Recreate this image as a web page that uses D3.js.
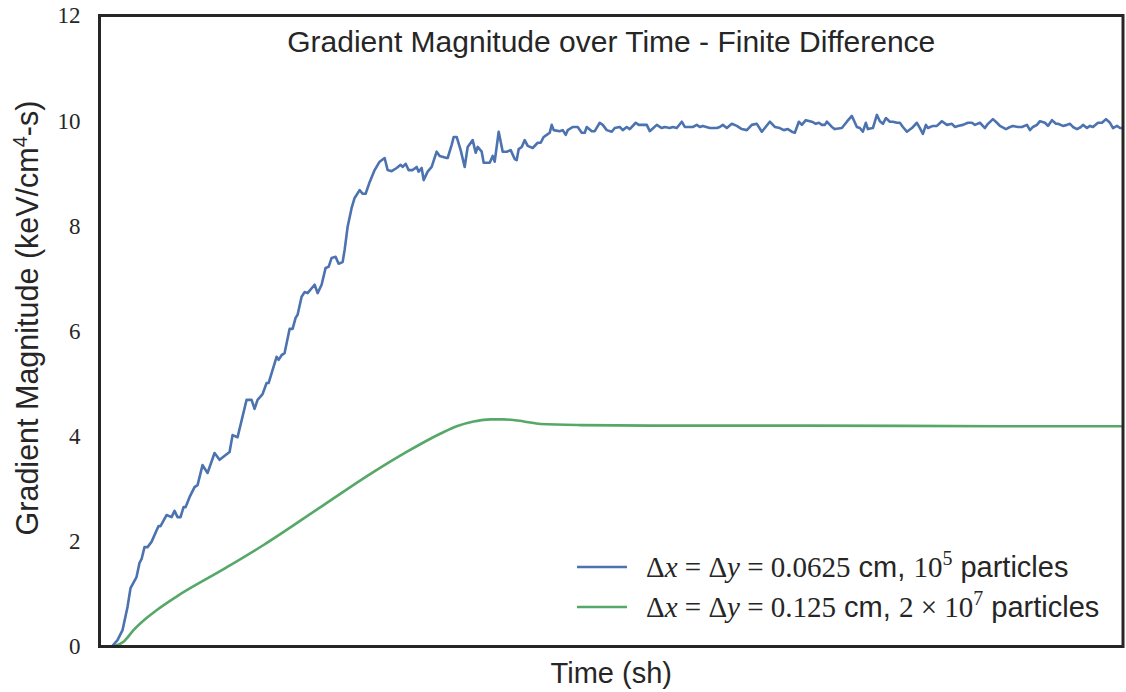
<!DOCTYPE html>
<html>
<head>
<meta charset="utf-8">
<script src="https://cdn.jsdelivr.net/npm/d3@7/dist/d3.min.js"></script>
<style>
  html, body { margin: 0; padding: 0; background: #ffffff; }
  svg { display: block; }
</style>
</head>
<body>
<svg id="chart" width="1126" height="692"></svg>
<script>
// Fine grid run: dx = dy = 0.0625 cm, 1e5 particles (time in sh, gradient in keV/cm^4-s)
const fineTime = [
  0.10, 0.13, 0.18, 0.23, 0.28, 0.31, 0.37, 0.40, 0.42, 0.45, 0.48, 0.52, 0.59, 0.61, 0.67,
  0.72, 0.75, 0.78, 0.81, 0.84, 0.86, 0.90, 0.95, 0.98, 1.03, 1.08, 1.15, 1.20, 1.30, 1.33,
  1.38, 1.47, 1.52, 1.55, 1.58, 1.63, 1.67, 1.69, 1.77, 1.79, 1.82, 1.85, 1.90, 1.93, 1.96,
  1.98, 2.02, 2.05, 2.08, 2.15, 2.18, 2.22, 2.26, 2.29, 2.32, 2.36, 2.39, 2.43, 2.45, 2.48,
  2.52, 2.55, 2.60, 2.63, 2.66, 2.70, 2.75, 2.80, 2.85, 2.88, 2.92, 2.97, 3.01, 3.03, 3.06,
  3.09, 3.13, 3.17, 3.19, 3.22, 3.24, 3.28, 3.32, 3.37, 3.40, 3.47, 3.48, 3.52, 3.54, 3.57,
  3.61, 3.65, 3.68, 3.73, 3.76, 3.78, 3.82, 3.84, 3.87, 3.90, 3.93, 3.95, 3.99, 4.03, 4.07,
  4.11, 4.15, 4.17, 4.19, 4.22, 4.25, 4.28, 4.33, 4.38, 4.41, 4.44, 4.47, 4.50, 4.52, 4.54,
  4.60, 4.63, 4.66, 4.68, 4.73, 4.78, 4.82, 4.85, 4.87, 4.92, 4.95, 5.00, 5.03, 5.07, 5.12,
  5.15, 5.20, 5.23, 5.27, 5.30, 5.36, 5.39, 5.43, 5.47, 5.50, 5.57, 5.62, 5.65, 5.70, 5.73,
  5.77, 5.82, 5.85, 5.88, 5.93, 5.97, 6.00, 6.03, 6.10, 6.17, 6.20, 6.23, 6.27, 6.32, 6.37,
  6.42, 6.47, 6.52, 6.57, 6.62, 6.65, 6.70, 6.75, 6.80, 6.84, 6.88, 6.92, 6.95, 6.99, 7.02,
  7.06, 7.10, 7.12, 7.16, 7.19, 7.22, 7.25, 7.27, 7.32, 7.35, 7.42, 7.47, 7.52, 7.57, 7.60,
  7.63, 7.66, 7.68, 7.73, 7.77, 7.80, 7.83, 7.86, 7.90, 7.93, 7.97, 8.00, 8.03, 8.07, 8.12,
  8.17, 8.20, 8.23, 8.26, 8.28, 8.33, 8.37, 8.42, 8.47, 8.52, 8.55, 8.58, 8.63, 8.68, 8.72,
  8.75, 8.80, 8.85, 8.88, 8.93, 8.97, 9.00, 9.06, 9.10, 9.13, 9.18, 9.22, 9.27, 9.30, 9.33,
  9.37, 9.40, 9.45, 9.48, 9.52, 9.56, 9.58, 9.63, 9.67, 9.70, 9.73, 9.77, 9.81, 9.83, 9.87,
  9.90, 9.93, 9.98, 10.02, 10.06, 10.10, 10.13, 10.17, 10.20, 10.23
];
const fineGrad = [
  0.00, 0.01, 0.12, 0.31, 0.75, 1.11, 1.32, 1.59, 1.66, 1.89, 1.89, 1.99, 2.29, 2.29, 2.50,
  2.46, 2.58, 2.46, 2.46, 2.65, 2.65, 2.84, 3.03, 3.07, 3.45, 3.30, 3.68, 3.55, 3.70, 4.02,
  3.98, 4.69, 4.69, 4.52, 4.69, 4.80, 5.01, 5.01, 5.51, 5.45, 5.54, 5.58, 6.04, 6.04, 6.25,
  6.31, 6.65, 6.74, 6.72, 6.88, 6.72, 6.88, 7.20, 7.22, 7.39, 7.41, 7.28, 7.31, 7.54, 7.98,
  8.34, 8.53, 8.68, 8.61, 8.61, 8.83, 9.06, 9.22, 9.29, 9.06, 9.04, 9.10, 9.16, 9.12, 9.18,
  9.06, 9.06, 9.12, 9.03, 9.10, 8.87, 9.03, 9.12, 9.41, 9.33, 9.29, 9.29, 9.54, 9.69, 9.69,
  9.44, 9.12, 9.50, 9.63, 9.39, 9.50, 9.41, 9.20, 9.20, 9.20, 9.33, 9.22, 9.79, 9.41, 9.41,
  9.44, 9.27, 9.25, 9.46, 9.50, 9.63, 9.52, 9.48, 9.58, 9.58, 9.69, 9.73, 9.77, 9.92, 9.82,
  9.80, 9.82, 9.73, 9.82, 9.88, 9.88, 9.77, 9.77, 9.88, 9.80, 9.80, 9.96, 9.92, 9.82, 9.79,
  9.86, 9.88, 9.82, 9.88, 9.84, 9.96, 9.92, 9.92, 9.92, 9.80, 9.92, 9.86, 9.88, 9.86, 9.88,
  9.86, 9.98, 9.88, 9.88, 9.88, 9.92, 9.88, 9.90, 9.86, 9.86, 9.88, 9.92, 9.86, 9.94, 9.90,
  9.84, 9.82, 9.92, 9.94, 9.79, 9.86, 9.98, 9.88, 9.86, 9.82, 9.84, 9.79, 9.77, 9.98, 9.92,
  10.01, 9.99, 9.98, 9.94, 9.96, 9.92, 9.92, 9.98, 9.88, 9.84, 9.86, 9.98, 10.09, 9.88, 9.86,
  9.79, 9.96, 9.84, 9.86, 10.11, 9.99, 9.94, 10.05, 9.98, 9.98, 9.96, 9.96, 9.88, 9.79, 9.86,
  9.96, 9.86, 9.75, 9.92, 9.86, 9.90, 9.90, 9.99, 9.92, 9.94, 9.88, 9.90, 9.92, 9.96, 9.96,
  9.92, 9.96, 9.86, 9.94, 10.03, 9.96, 9.90, 9.84, 9.88, 9.90, 9.88, 9.88, 9.92, 9.82, 9.88,
  9.92, 9.99, 9.96, 9.90, 10.01, 9.94, 9.94, 9.90, 9.92, 9.94, 9.88, 9.84, 9.88, 9.92, 9.86,
  9.90, 9.88, 9.96, 9.96, 10.03, 9.96, 9.86, 9.90, 9.86, 9.86
];

// Coarse grid run: dx = dy = 0.125 cm, 2e7 particles
const coarseTime = [
  0.14, 0.24, 0.34, 0.47, 0.57, 0.77, 1.24, 1.64, 2.24, 2.74, 3.07, 3.41, 3.57, 3.74, 3.91,
  4.04, 4.24, 4.41, 4.81, 5.51, 7.01, 9.01, 10.23
];
const coarseGrad = [
  0.00, 0.09, 0.31, 0.54, 0.69, 0.95, 1.47, 1.93, 2.69, 3.32, 3.70, 4.05, 4.19, 4.28, 4.32,
  4.32, 4.28, 4.23, 4.21, 4.20, 4.20, 4.19, 4.19
];

const yTicks = [0, 2, 4, 6, 8, 10, 12];
const seriesColors = ["#4c72b0", "#55a868"];

const W = 1126, H = 692;
const plot = { left: 99.5, top: 15.5, right: 1123, bottom: 646.5 };
const ink = "#262626";
const serif = "'Liberation Serif', 'DejaVu Serif', serif";
const sans = "'Liberation Sans', Arial, sans-serif";

const svg = d3.select("#chart");
svg.append("rect").attr("width", W).attr("height", H).attr("fill", "#ffffff");

const x = d3.scaleLinear().domain([0, 10.23]).range([plot.left, plot.right]);
const y = d3.scaleLinear().domain([0, 12]).range([plot.bottom, plot.top]);

svg.append("clipPath").attr("id", "plot-clip")
  .append("rect")
  .attr("x", plot.left).attr("y", plot.top)
  .attr("width", plot.right - plot.left).attr("height", plot.bottom - plot.top);

// Y axis: labels only, no tick marks
const yAxis = svg.append("g")
  .attr("transform", `translate(${plot.left},0)`)
  .call(d3.axisLeft(y).tickValues(yTicks).tickSize(0).tickPadding(19).tickFormat(d3.format("d")));
yAxis.select(".domain").remove();
yAxis.selectAll("text")
  .attr("font-family", serif).attr("font-size", 23).attr("fill", ink);

// Series lines
const lines = svg.append("g").attr("clip-path", "url(#plot-clip)");
const fineData = fineTime.map((t, i) => [t, fineGrad[i]]);
const coarseData = coarseTime.map((t, i) => [t, coarseGrad[i]]);

lines.append("path")
  .datum(coarseData)
  .attr("fill", "none")
  .attr("stroke", seriesColors[1])
  .attr("stroke-width", 2.6)
  .attr("stroke-linejoin", "round")
  .attr("d", d3.line().x(d => x(d[0])).y(d => y(d[1])).curve(d3.curveMonotoneX));

lines.append("path")
  .datum(fineData)
  .attr("fill", "none")
  .attr("stroke", seriesColors[0])
  .attr("stroke-width", 2.6)
  .attr("stroke-linejoin", "round")
  .attr("d", d3.line().x(d => x(d[0])).y(d => y(d[1])));

// Frame around the axes
svg.append("rect")
  .attr("x", plot.left).attr("y", plot.top)
  .attr("width", plot.right - plot.left).attr("height", plot.bottom - plot.top)
  .attr("fill", "none").attr("stroke", ink).attr("stroke-width", 3);

const cx = (plot.left + plot.right) / 2;

// Title (inside the axes)
svg.append("text")
  .attr("x", cx).attr("y", 52)
  .attr("text-anchor", "middle")
  .attr("font-family", sans).attr("font-size", 30).attr("fill", ink)
  .text("Gradient Magnitude over Time - Finite Difference");

// X label
svg.append("text")
  .attr("x", cx).attr("y", 683)
  .attr("text-anchor", "middle")
  .attr("font-family", sans).attr("font-size", 29).attr("fill", ink)
  .text("Time (sh)");

// Y label with superscript
const yl = svg.append("text")
  .attr("transform", `translate(38,318) rotate(-90)`)
  .attr("text-anchor", "middle")
  .attr("font-family", sans).attr("font-size", 30.5).attr("fill", ink);
yl.append("tspan").text("Gradient Magnitude (keV/cm");
yl.append("tspan").attr("dy", -11).attr("font-size", 20).text("4");
yl.append("tspan").attr("dy", 11).text("-s)");

// Legend
const legendRows = [
  { color: seriesColors[0], parts: [
    ["Δ", serif, "normal"], ["x", serif, "italic"], [" = Δ", serif, "normal"], ["y", serif, "italic"],
    [" = 0.0625", serif, "normal"], [" cm, ", sans, "normal"], ["10", serif, "normal"],
    ["sup:5", serif, "normal"], [" particles", sans, "normal"] ] },
  { color: seriesColors[1], parts: [
    ["Δ", serif, "normal"], ["x", serif, "italic"], [" = Δ", serif, "normal"], ["y", serif, "italic"],
    [" = 0.125", serif, "normal"], [" cm, ", sans, "normal"], ["2 × 10", serif, "normal"],
    ["sup:7", serif, "normal"], [" particles", sans, "normal"] ] }
];
const legend = svg.append("g");
legendRows.forEach((row, i) => {
  const ly = 567 + i * 40;
  legend.append("line")
    .attr("x1", 577).attr("x2", 627).attr("y1", ly).attr("y2", ly)
    .attr("stroke", row.color).attr("stroke-width", 2.6);
  const t = legend.append("text")
    .attr("x", 646).attr("y", ly + 10)
    .attr("font-size", 29).attr("fill", ink)
    .attr("xml:space", "preserve");
  let shift = 0;
  row.parts.forEach(([s, fam, style]) => {
    if (s.startsWith("sup:")) {
      t.append("tspan").attr("dy", -12).attr("font-family", fam).attr("font-size", 20)
        .text(s.slice(4));
      shift = 12;
    } else {
      t.append("tspan").attr("dy", shift).attr("font-family", fam).attr("font-style", style).text(s);
      shift = 0;
    }
  });
});
</script>
</body>
</html>
